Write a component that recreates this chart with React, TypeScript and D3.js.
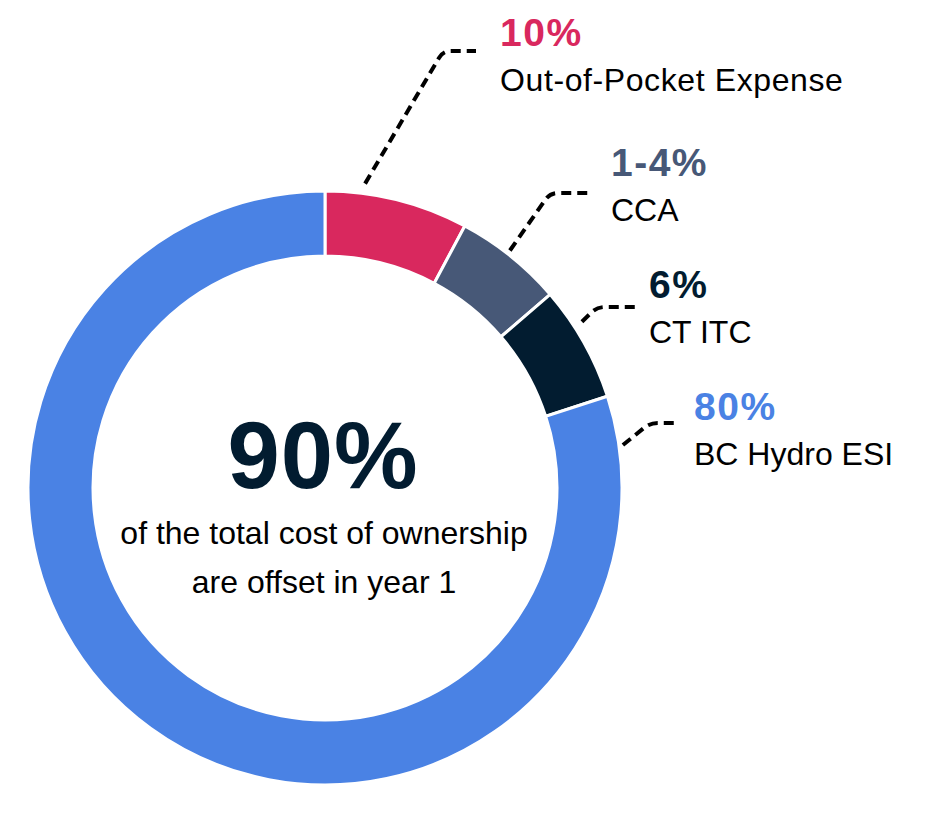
import React from "react";
import * as d3 from "d3";

const categories = ["Out-of-Pocket Expense", "CCA", "CT ITC", "BC Hydro ESI"];
const sliceValues = [7.8, 5.9, 6.3, 80];
const valueLabels = ["10%", "1-4%", "6%", "80%"];
const colors = ["#D9285E", "#475877", "#021C30", "#4A82E4"];

const centerValue = "90%";
const centerLines = ["of the total cost of ownership", "are offset in year 1"];

// layout of leader lines / labels (positions only)
const leaderAngles = [7.5, 37.9, 57.1, 81.8];
const leaderStartR = [307, 301, 306, 301];
const elbows = [
  [443, 51],
  [550, 193],
  [597, 307],
  [650, 423],
];
const leaderEndX = [476, 588, 637, 678];
const labelX = [500, 611, 649, 694];
const labelY = [46, 176, 298, 420];

const W = 950;
const H = 813;
const cx = 325;
const cy = 488;
const outerR = 297;
const innerR = 232;
const FONT = "'Liberation Sans', Arial, Helvetica, sans-serif";

export default function App() {
  const pie = d3
    .pie<number>()
    .sort(null)
    .value((d) => d)
    .startAngle(0)
    .endAngle(2 * Math.PI);
  const arcs = pie(sliceValues);
  const arc = d3.arc<d3.PieArcDatum<number>>().innerRadius(innerR).outerRadius(outerR);

  const leaderPath = (i: number) => {
    const a = (leaderAngles[i] * Math.PI) / 180;
    const sx = cx + leaderStartR[i] * Math.sin(a);
    const sy = cy - leaderStartR[i] * Math.cos(a);
    const [ex, ey] = elbows[i];
    const len = Math.hypot(ex - sx, ey - sy);
    const rr = 8;
    const bx = ex - ((ex - sx) / len) * rr;
    const by = ey - ((ey - sy) / len) * rr;
    const p = d3.path();
    p.moveTo(sx, sy);
    p.lineTo(bx, by);
    p.quadraticCurveTo(ex, ey, ex + rr, ey);
    p.lineTo(leaderEndX[i], ey);
    return p.toString();
  };

  return (
    <svg
      width={W}
      height={H}
      style={{ position: "absolute", left: 0, top: 0, background: "#fff" }}
    >
      <g transform={`translate(${cx},${cy})`}>
        {arcs.map((d, i) => (
          <path key={i} d={arc(d) || ""} fill={colors[i]} stroke="#fff" strokeWidth={3} />
        ))}
      </g>
      {categories.map((c, i) => (
        <g key={c}>
          <path
            d={leaderPath(i)}
            fill="none"
            stroke="#000"
            strokeWidth={4}
            strokeDasharray="10 6"
          />
          <text
            x={labelX[i]}
            y={labelY[i]}
            fontFamily={FONT}
            fontWeight={700}
            fontSize={39}
            letterSpacing={1.5}
            fill={colors[i]}
          >
            {valueLabels[i]}
          </text>
          <text
            x={labelX[i]}
            y={labelY[i] + 45}
            fontFamily={FONT}
            fontSize={32}
            letterSpacing={i === 0 ? 0.6 : 0}
            fill="#000"
          >
            {c}
          </text>
        </g>
      ))}
      <text
        x={323}
        y={488}
        textAnchor="middle"
        fontFamily={FONT}
        fontWeight={700}
        fontSize={94}
        letterSpacing={1}
        fill="#021C30"
      >
        {centerValue}
      </text>
      {centerLines.map((t, i) => (
        <text
          key={t}
          x={324}
          y={544 + i * 49}
          textAnchor="middle"
          fontFamily={FONT}
          fontSize={32}
          fill="#000"
        >
          {t}
        </text>
      ))}
    </svg>
  );
}
